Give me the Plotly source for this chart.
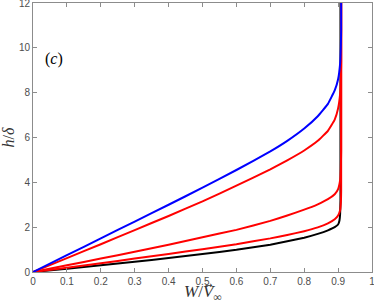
import plotly.graph_objects as go

w_black = [0, 0.1, 0.2, 0.3, 0.4, 0.5, 0.6, 0.7, 0.75, 0.8, 0.84, 0.87, 0.89, 0.9, 0.904, 0.906, 0.907, 0.907]
h_black = [0, 0.15, 0.30, 0.46, 0.62, 0.80, 0.99, 1.22, 1.37, 1.53, 1.70, 1.86, 2.00, 2.12, 2.30, 2.60, 3.20, 12]

w_red3 = [0, 0.1, 0.2, 0.3, 0.4, 0.5, 0.6, 0.7, 0.75, 0.8, 0.84, 0.87, 0.89, 0.9, 0.906, 0.908, 0.909, 0.909]
h_red3 = [0, 0.19, 0.39, 0.60, 0.80, 1.02, 1.24, 1.50, 1.65, 1.82, 1.99, 2.17, 2.35, 2.52, 2.75, 3.05, 3.60, 12]

w_red2 = [0, 0.1, 0.2, 0.3, 0.4, 0.5, 0.6, 0.7, 0.75, 0.8, 0.84, 0.87, 0.89, 0.9, 0.906, 0.908, 0.909, 0.909]
h_red2 = [0, 0.30, 0.60, 0.90, 1.22, 1.55, 1.88, 2.28, 2.52, 2.78, 3.02, 3.25, 3.47, 3.70, 4.10, 4.60, 5.40, 12]

w_red1 = [0, 0.1, 0.2, 0.3, 0.4, 0.5, 0.6, 0.7, 0.75, 0.8, 0.84, 0.87, 0.89, 0.9, 0.906, 0.908, 0.909, 0.909]
h_red1 = [0, 0.62, 1.24, 1.87, 2.50, 3.15, 3.85, 4.58, 4.98, 5.42, 5.85, 6.30, 6.80, 7.30, 7.95, 8.60, 9.40, 12]

w_blue = [0, 0.1, 0.2, 0.3, 0.4, 0.5, 0.6, 0.7, 0.75, 0.8, 0.84, 0.87, 0.89, 0.9, 0.906, 0.908, 0.909, 0.909]
h_blue = [0, 0.75, 1.50, 2.25, 3.00, 3.76, 4.55, 5.38, 5.85, 6.40, 6.95, 7.50, 8.10, 8.60, 9.30, 10.0, 10.8, 12]

x_ticks = [0, 0.1, 0.2, 0.3, 0.4, 0.5, 0.6, 0.7, 0.8, 0.9, 1]
x_ticklabels = ["0", "0.1", "0.2", "0.3", "0.4", "0.5", "0.6", "0.7", "0.8", "0.9", "1"]
y_ticks = [0, 2, 4, 6, 8, 10, 12]
y_ticklabels = ["0", "2", "4", "6", "8", "10", "12"]

series = [
    (w_black, h_black, "black"),
    (w_red3, h_red3, "#ff0000"),
    (w_red2, h_red2, "#ff0000"),
    (w_red1, h_red1, "#ff0000"),
    (w_blue, h_blue, "#0000ff"),
]

fig = go.Figure()
for w, h, c in series:
    fig.add_trace(go.Scatter(x=w, y=h, mode="lines",
                             line=dict(color=c, width=2, shape="spline", smoothing=0.3),
                             showlegend=False, hoverinfo="skip"))

axis_common = dict(
    showgrid=False, zeroline=False, showline=True, linecolor="#8c8c8c", linewidth=1,
    mirror="ticks", ticks="inside", ticklen=4, tickcolor="#8c8c8c", tickwidth=1,
    automargin=False, ticklabeloverflow="allow",
    tickfont=dict(family="Liberation Sans, Arial, sans-serif", size=10, color="#4d4d4d"),
)

serif = "Liberation Serif, Times New Roman, serif"
fig.update_layout(
    width=374, height=306,
    margin=dict(l=33, r=2, t=3, b=34),
    paper_bgcolor="white", plot_bgcolor="white",
    xaxis=dict(range=[0, 1], tickvals=x_ticks, ticktext=x_ticklabels, **axis_common),
    yaxis=dict(range=[0, 12], tickvals=y_ticks, ticktext=y_ticklabels, **axis_common),
    annotations=[
        dict(x=0.062, y=9.5, xref="x", yref="y", text="(<i>c</i>)", showarrow=False,
             font=dict(family=serif, size=16, color="black")),
        dict(x=0.5, y=0, xref="paper", yref="paper", yanchor="middle", yshift=-21,
             text="<i>W</i>/<i>V</i><sub>∞</sub>", showarrow=False,
             font=dict(family=serif, size=17, color="#333333")),
        dict(x=0.519, y=0, xref="paper", yref="paper", yanchor="middle", yshift=-13,
             text="\u2192", showarrow=False,
             font=dict(family="DejaVu Sans, sans-serif", size=9, color="#333333")),
        dict(x=0, y=0.5, xref="paper", yref="paper", xanchor="center", xshift=-25,
             text="<i>h</i>/<i>δ</i>", textangle=-90, showarrow=False,
             font=dict(family=serif, size=16, color="#333333")),
    ],
)

fig.write_html("out.html", config={"displayModeBar": False},
               post_script="document.body.style.margin='0';document.body.style.overflow='hidden';")
